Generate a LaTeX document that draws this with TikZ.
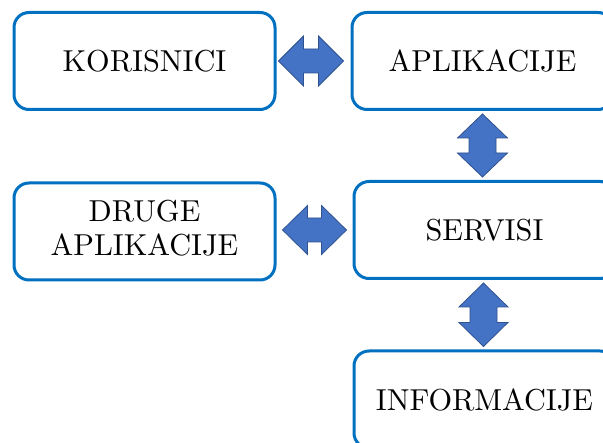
\documentclass[tikz,border=0pt]{standalone}
\usepackage{graphicx}
\usetikzlibrary{calc}
\definecolor{boxblue}{HTML}{0070C0}
\definecolor{arrfill}{HTML}{4472C4}
\definecolor{arrline}{HTML}{2F528F}
\newcommand{\bigtxt}[1]{\scalebox{3.03}{#1}}
\begin{document}
\begin{tikzpicture}[x=1pt,y=-1pt,
  box/.style={draw=boxblue, line width=3pt, rounded corners=15pt, fill=white,
    minimum width=261pt, minimum height=97pt, inner sep=0pt, align=center},
  blk/.style={fill=arrfill, draw=arrline, line width=0.8pt, line join=miter}]
\clip (0,0) rectangle (603,443);
\fill[white] (0,0) rectangle (603,443);
\node[box] (k) at (144.5,61) {\bigtxt{KORISNICI}};
\node[box] (a) at (482.5,61) {\bigtxt{APLIKACIJE}};
\node[box] (d) at (144.5,231.5) {\bigtxt{\renewcommand{\arraystretch}{0.93}\begin{tabular}{@{}c@{}}DRUGE\\APLIKACIJE\end{tabular}}};
\node[box] (s) at (484.5,230) {\bigtxt{SERVISI}};
\node[box] (i) at (484.5,399.5) {\bigtxt{INFORMACIJE}};
% horizontal block arrow K <-> A
\draw[blk] let \p1=($(k.east)+(2,0)$), \p2=($(a.west)+(-7,0)$) in
  (\x1,\y1) -- (\x1+25pt,\y1+25pt) -- (\x1+25pt,\y1+12pt) -- (\x2-25pt,\y1+12pt)
  -- (\x2-25pt,\y1+25pt) -- (\x2,\y1) -- (\x2-25pt,\y1-25pt) -- (\x2-25pt,\y1-12pt)
  -- (\x1+25pt,\y1-12pt) -- (\x1+25pt,\y1-25pt) -- cycle;
% horizontal block arrow D <-> S
\draw[blk] let \p1=($(d.east)+(6,-1.5)$), \p2=($(s.west)+(-6,0)$) in
  (\x1,\y2) -- (\x1+25pt,\y2+24.5pt) -- (\x1+25pt,\y2+12pt) -- (\x2-25pt,\y2+12pt)
  -- (\x2-25pt,\y2+24.5pt) -- (\x2,\y2) -- (\x2-25pt,\y2-24.5pt) -- (\x2-25pt,\y2-12pt)
  -- (\x1+25pt,\y2-12pt) -- (\x1+25pt,\y2-24.5pt) -- cycle;
% vertical block arrow A <-> S
\draw[blk] let \p1=($(a.south)+(0,3)$), \p2=($(s.north)+(-2.5,-3)$) in
  (\x1,\y1) -- (\x1+25pt,\y1-24pt) -- (\x1+13.5pt,\y1-24pt) -- (\x1+13.5pt,\y2+24pt)
  -- (\x1+25pt,\y2+24pt) -- (\x1,\y2) -- (\x1-25pt,\y2+24pt) -- (\x1-13.5pt,\y2+24pt)
  -- (\x1-13.5pt,\y1-24pt) -- (\x1-25pt,\y1-24pt) -- cycle;
% vertical block arrow S <-> I
\draw[blk] let \p1=($(s.south)+(-1,3)$), \p2=($(i.north)+(-1,-3)$) in
  (\x1,\y1) -- (\x1+24.5pt,\y1-24pt) -- (\x1+13.5pt,\y1-24pt) -- (\x1+13.5pt,\y2+24pt)
  -- (\x1+24.5pt,\y2+24pt) -- (\x1,\y2) -- (\x1-24.5pt,\y2+24pt) -- (\x1-13.5pt,\y2+24pt)
  -- (\x1-13.5pt,\y1-24pt) -- (\x1-24.5pt,\y1-24pt) -- cycle;
\end{tikzpicture}
\end{document}
